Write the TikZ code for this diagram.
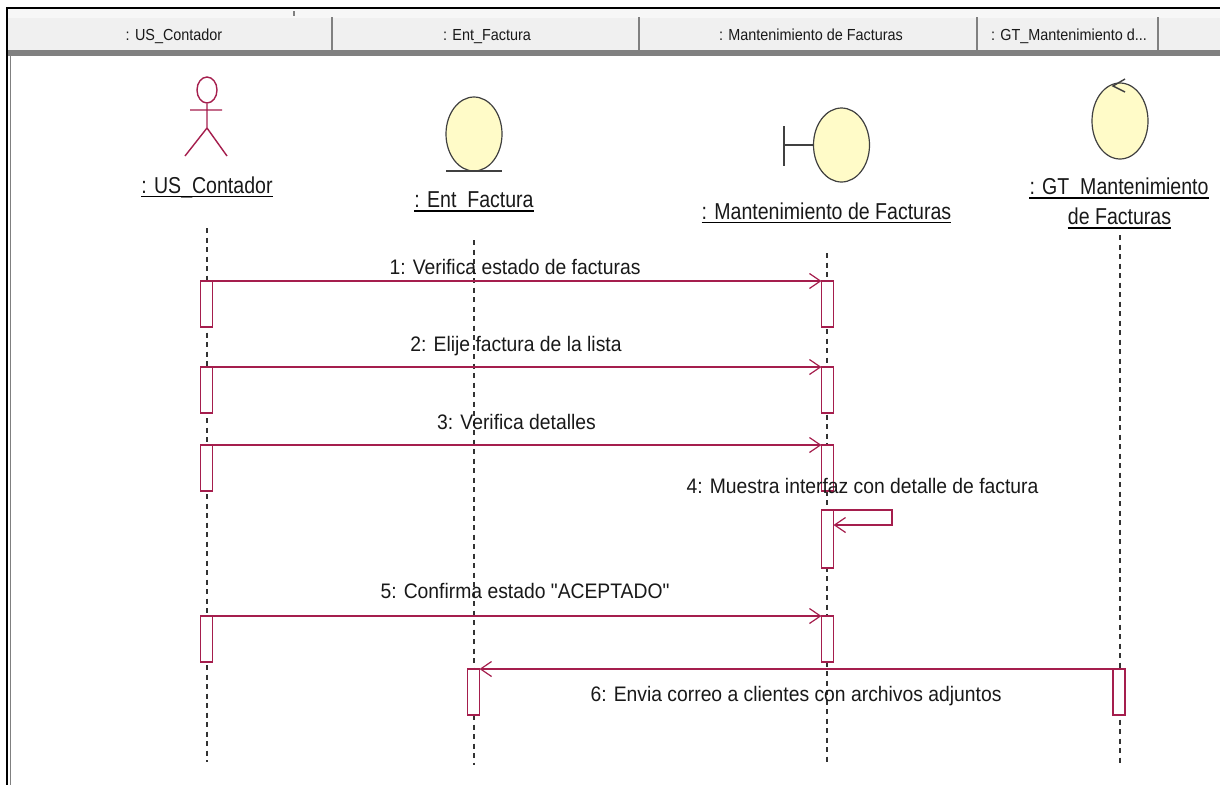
\documentclass[tikz,border=0pt]{standalone}
\usepackage{fontspec}
\usetikzlibrary{shapes.geometric,arrows.meta}
\newfontfamily\hdfont[FakeStretch=0.9]{Liberation Sans}
\newfontfamily\bigfont[FakeStretch=0.85]{Liberation Sans}
\newfontfamily\msgfont[FakeStretch=0.92]{Liberation Sans}
\definecolor{umlred}{HTML}{A51E4D}
\definecolor{umlyel}{HTML}{FFFBC8}
\definecolor{hdfill}{HTML}{F0F0F0}
\definecolor{hdline}{HTML}{808080}
\tikzset{
  x=1pt,y=-1pt,
  hdtext/.style={font=\hdfont\fontsize{16}{18}\selectfont,text=black!90,inner sep=0,anchor=base},
  name label/.style={font=\bigfont\fontsize{23}{26}\selectfont,text=black!90,inner sep=0,anchor=base},
  msg label/.style={font=\msgfont\fontsize{21}{24}\selectfont,text=black!90,inner sep=0,anchor=base},
  under/.style={draw=black,line width=1.4pt},
  lifeline/.style={draw=black!80,line width=1.3pt,dash pattern=on 5pt off 4.5pt},
  actbox/.style={draw=umlred,fill=white,line width=1.6pt,rectangle,inner sep=0,outer sep=0,minimum width=12pt,minimum height=46pt},
  message/.style={draw=umlred,line width=1.8pt,-{Straight Barb[length=11pt,width=15pt,line width=1.2pt]}},
  obj/.style={draw=black!75,fill=umlyel,line width=1.2pt,ellipse,inner sep=0,minimum width=56pt,minimum height=74pt},
  objline/.style={draw=black!75,line width=1.4pt},
  actor/.style={draw=umlred,line width=1.4pt},
  divider/.style={draw=hdline,line width=1.6pt}
}
\begin{document}
\begin{tikzpicture}
\useasboundingbox (0,0) rectangle (1220,785);
\fill[white] (0,0) rectangle (1220,785);
% header
\fill[black!3] (8,9) rectangle (1220,18);
\fill[hdfill] (8,18) rectangle (1220,50);
\fill[hdline] (8,50) rectangle (1220,56);
\draw[black,line width=2.2pt] (1220,8) -- (7,8) -- (7,785);
\draw[hdline,line width=1.8pt] (10.5,50) -- (10.5,785);
\draw[divider] (294,11) -- (294,16);
\coordinate (d1t) at (332,17); \coordinate (d1b) at (332,51);
\coordinate (d2t) at (639,17); \coordinate (d2b) at (639,51);
\coordinate (d3t) at (977,17); \coordinate (d3b) at (977,51);
\coordinate (d4t) at (1158,17); \coordinate (d4b) at (1158,51);
\draw[divider] (d1t)--(d1b) (d2t)--(d2b) (d3t)--(d3b) (d4t)--(d4b);
\node[hdtext] (h1) at (174,40) {: US\_Contador};
\node[hdtext] (h2) at (487,40) {: Ent\_Factura};
\node[hdtext] (h3) at (811,40) {: Mantenimiento de Facturas};
\node[hdtext] (h4) at (1069,40) {: GT\_Mantenimiento d...};
% actor
\node[draw=umlred,line width=1.4pt,ellipse,inner sep=0,minimum width=20pt,minimum height=26pt] (head) at (207,90) {};
\coordinate (hip) at (207,128);
\coordinate (armL) at (190,110); \coordinate (armR) at (222,110);
\coordinate (legL) at (185,156); \coordinate (legR) at (227,156);
\draw[actor] (head.south) -- (hip) (armL) -- (armR) (legL) -- (hip) -- (legR);
% entity
\node[obj] (ent) at (474,134) {};
\coordinate (entL) at (446,171); \coordinate (entR) at (502,171);
\draw[objline] (entL) -- (entR);
% boundary
\node[obj] (bnd) at (841.5,145) {};
\coordinate (bndT) at (784,126); \coordinate (bndB) at (784,166); \coordinate (bndM) at (784,145);
\draw[objline] (bndT) -- (bndB) (bndM) -- (bnd.west);
% control
\node[obj,minimum height=76pt] (ctl) at (1120,121) {};
\coordinate (ctlA) at (1125,79); \coordinate (ctlB) at (1113,86); \coordinate (ctlC) at (1125,92);
\draw[objline] (ctlA) -- (ctlB) -- (ctlC);
% names
\node[name label] (nUS) at (207,193) {: US\_Contador};
\node[name label] (nEnt) at (474,207.5) {: Ent\_Factura};
\node[name label] (nMan) at (826.5,219) {: Mantenimiento de Facturas};
\node[name label] (nGT) at (1119,194.5) {: GT\_Mantenimiento};
\node[name label] (nDF) at (1119.5,224.5) {de Facturas};
\foreach \n in {nUS,nEnt,nMan,nGT,nDF}
  \draw[under] ([yshift=-3.5pt]\n.base west) -- ([yshift=-3.5pt]\n.base east);
% lifelines
\coordinate (l1t) at (207,228); \coordinate (l1b) at (207,762);
\coordinate (l2t) at (474,240); \coordinate (l2b) at (474,765);
\coordinate (l3t) at (827,253); \coordinate (l3b) at (827,765);
\coordinate (l4t) at (1120,235); \coordinate (l4b) at (1120,765);
\draw[lifeline] (l1t)--(l1b) (l2t)--(l2b) (l3t)--(l3b) (l4t)--(l4b);
% activations
\node[actbox] (a1) at (206.5,304) {};
\node[actbox] (a2) at (206.5,390) {};
\node[actbox] (a3) at (206.5,468) {};
\node[actbox] (a5) at (206.5,639) {};
\node[actbox] (b1) at (827.5,304) {};
\node[actbox] (b2) at (827.5,390) {};
\node[actbox] (b3) at (827.5,468) {};
\node[actbox,minimum height=58pt] (b4) at (827.5,539) {};
\node[actbox] (b5) at (827.5,639) {};
\node[actbox] (e6) at (473.5,692) {};
\node[actbox] (g6) at (1119,692) {};
% messages
\draw[message] (a1.north east) -- (b1.north west);
\draw[message] (a2.north east) -- (b2.north west);
\draw[message] (a3.north east) -- (b3.north west);
\draw[message] (a5.north east) -- (b5.north west);
\draw[message] (g6.north west) -- (e6.north east);
\coordinate (s1) at (892,510); \coordinate (s2) at (892,525);
\coordinate (s3) at (b4.east |- s2);
\draw[message] (b4.north east) -- (s1) -- (s2) -- (s3);
% message labels
\node[msg label] (m1) at (515,274) {1: Verifica estado de facturas};
\node[msg label] (m2) at (516,351) {2: Elije factura de la lista};
\node[msg label] (m3) at (516.5,429) {3: Verifica detalles};
\node[msg label] (m4) at (862.5,493) {4: Muestra interfaz con detalle de factura};
\node[msg label] (m5) at (525,598) {5: Confirma estado "ACEPTADO"};
\node[msg label] (m6) at (796,701) {6: Envia correo a clientes con archivos adjuntos};
\end{tikzpicture}
\end{document}
